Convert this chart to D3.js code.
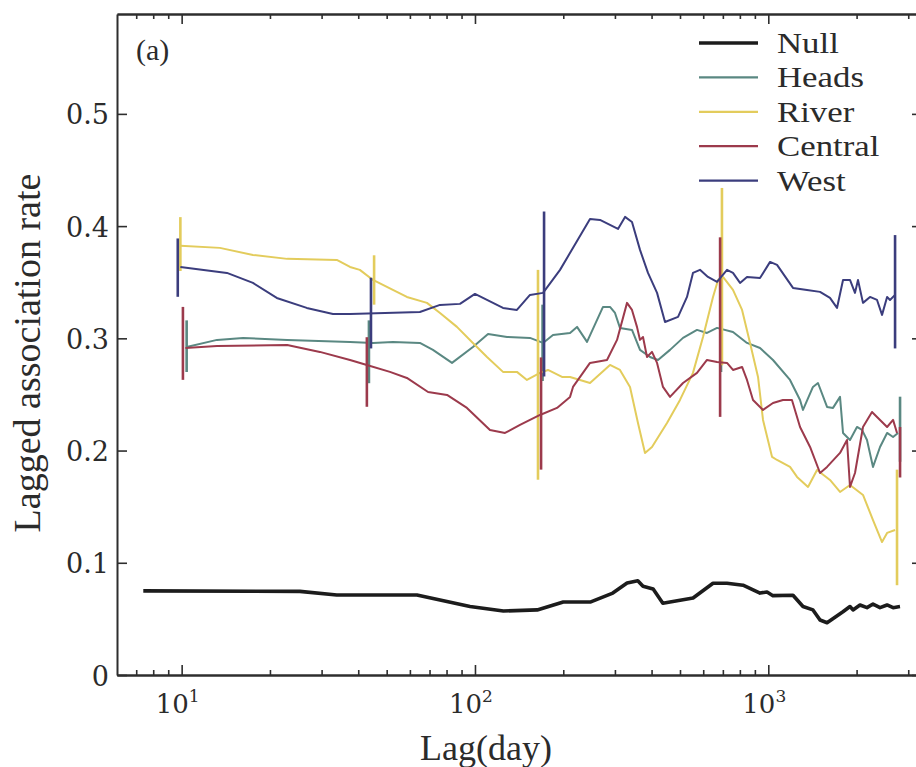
<!DOCTYPE html>
<html>
<head>
<meta charset="utf-8">
<script src="https://cdn.jsdelivr.net/npm/d3@7"></script>
<style>
  body { margin: 0; background: #fff; }
  #chartSVG text { fill: #2b2b2b; }
</style>
</head>
<body>
<div id="chartSVG"></div>
<script>
// series names and colours (legend order)
const seriesNames = ["Null", "Heads", "River", "Central", "West"];
const seriesColors = ["#1c1c1c", "#5a8882", "#e3cc5c", "#9c3a4c", "#3b3d7d"];

// lag (days), lagged association rate
const nullValues = [[7.4,0.075],[25.3,0.0745],[33.8,0.0713],[63.4,0.0713],[96.2,0.061],[125,0.057],[163,0.058],[200,0.065],[247,0.065],[295,0.073],[330,0.082],[359,0.084],[374,0.079],[405,0.0766],[437,0.064],[554,0.0686],[648,0.0817],[723,0.0817],[820,0.080],[937,0.073],[990,0.074],[1037,0.0707],[1214,0.071],[1313,0.061],[1420,0.058],[1501,0.049],[1586,0.0466],[1797,0.0564],[1899,0.061],[1944,0.058],[2054,0.0624],[2170,0.060],[2275,0.0632],[2404,0.060],[2540,0.0624],[2663,0.060],[2812,0.061]];

const headsValues = [[10.4,0.2923],[13.2,0.2986],[16.2,0.3004],[22.9,0.2986],[37.5,0.2968],[44.9,0.2959],[52.5,0.2968],[64.9,0.2959],[71.9,0.2897],[83.5,0.2781],[98.4,0.2923],[110.8,0.3039],[128.6,0.3012],[154,0.3004],[170.6,0.2959],[184.5,0.303],[210.9,0.3048],[222.8,0.3102],[241,0.2968],[273.2,0.328],[288.6,0.328],[300.2,0.3226],[312.1,0.3093],[343,0.3075],[365.3,0.2897],[395.1,0.2834],[420.7,0.2807],[462.3,0.2897],[512,0.3004],[571.4,0.3075],[618,0.3048],[668.7,0.3093],[757.9,0.3057],[846,0.2959],[937,0.2914],[1037.5,0.2807],[1186,0.2629],[1283,0.2451],[1313,0.2362],[1420,0.2567],[1477,0.2602],[1586,0.2389],[1662,0.238],[1756,0.2478],[1798,0.2157],[1899,0.2094],[2006,0.221],[2087,0.2184],[2170,0.2094],[2275,0.1854],[2404,0.2032],[2541,0.2157],[2663,0.2121],[2769,0.2157]];

const riverValues = [[9.9,0.3824],[13.5,0.3806],[17.5,0.3743],[22.9,0.3708],[33.8,0.3699],[37.5,0.3636],[40.5,0.361],[44.9,0.352],[52.5,0.3431],[58.6,0.3369],[68.6,0.3316],[76,0.3226],[86.8,0.3102],[98.4,0.2959],[109.9,0.2834],[124.6,0.2701],[139,0.2701],[150.4,0.2629],[166.6,0.2692],[177.4,0.2718],[198,0.2656],[210.9,0.2656],[246.7,0.2602],[288.6,0.2763],[312.1,0.2718],[337.7,0.2567],[359.5,0.2246],[379.9,0.1979],[401.3,0.2032],[451.5,0.2246],[500,0.2451],[553.6,0.2692],[599,0.3012],[647.9,0.3369],[674,0.352],[700.8,0.3547],[757.9,0.3431],[813.9,0.3253],[866.5,0.2959],[922.5,0.2656],[959.4,0.2273],[1030,0.1943],[1071,0.1916],[1186,0.1854],[1253,0.1765],[1366,0.1676],[1466,0.1827],[1623,0.1738],[1756,0.1631],[1899,0.1693],[2103,0.1604],[2275,0.1381],[2442,0.1185],[2541,0.1266],[2705,0.1292]];

const centralValues = [[10.3,0.2914],[13.2,0.2932],[22.9,0.2941],[29.6,0.2879],[37.5,0.2807],[42.8,0.2763],[51.3,0.2701],[58.6,0.2647],[69.2,0.2522],[80.3,0.2496],[93.9,0.238],[112.5,0.2184],[126.6,0.2157],[142.4,0.2228],[166.6,0.2317],[190.4,0.238],[210.9,0.2478],[215.9,0.2567],[246.7,0.2781],[281.9,0.2807],[305,0.2986],[329.9,0.3316],[343,0.3253],[356.7,0.3102],[365.3,0.2986],[374,0.3012],[385.9,0.2834],[401.3,0.2879],[417.6,0.2781],[437.5,0.2567],[462.3,0.2478],[512,0.2602],[571.4,0.2692],[618,0.2807],[668.7,0.279],[723.2,0.2781],[757.9,0.2718],[813.9,0.2745],[846,0.2629],[887,0.2451],[959.4,0.2362],[1037.5,0.2424],[1122,0.2451],[1204,0.2451],[1283,0.221],[1388,0.2032],[1501,0.18],[1586,0.1854],[1756,0.1979],[1855,0.2094],[1899,0.1676],[1975,0.18],[2103,0.221],[2257,0.2344],[2404,0.2273],[2541,0.221],[2663,0.2273],[2747,0.2157]];

const westValues = [[9.9,0.3636],[14.27,0.3583],[17.5,0.3494],[21.1,0.336],[26.7,0.3271],[32.8,0.3217],[37.5,0.3217],[64.9,0.3235],[76,0.3298],[88.9,0.3307],[100,0.3396],[124.6,0.3271],[139,0.3253],[154,0.3387],[170.6,0.3405],[195,0.361],[246.7,0.4064],[266.8,0.4055],[307.3,0.3975],[324.8,0.4082],[343,0.4037],[365.3,0.3788],[388.9,0.3583],[417.6,0.3405],[444.5,0.3146],[492.4,0.3191],[528.3,0.3369],[553.6,0.3583],[584.9,0.361],[622.8,0.3547],[668.7,0.3503],[723.2,0.361],[757.9,0.3583],[801,0.3494],[846,0.3547],[937,0.3538],[1014,0.3681],[1071,0.3654],[1214,0.3449],[1355,0.3431],[1501,0.3414],[1623,0.336],[1715,0.3271],[1798,0.352],[1899,0.352],[1975,0.3405],[2022,0.352],[2103,0.3316],[2222,0.3369],[2348,0.3342],[2442,0.3209],[2541,0.3369],[2600,0.3342],[2705,0.3387]];

// error bars: lag, low, high
const headsBars = [[10.4,0.27,0.316],[43.5,0.26,0.316],[170,0.262,0.33],[690,0.27,0.345],[2813,0.19,0.248]];
const riverBars = [[9.9,0.36,0.408],[45.3,0.33,0.374],[164,0.174,0.361],[695,0.276,0.434],[2747,0.08,0.183]];
const centralBars = [[10.1,0.263,0.328],[42.8,0.239,0.301],[168,0.183,0.283],[685,0.23,0.39],[2813,0.176,0.221]];
const westBars = [[9.7,0.337,0.389],[44.2,0.291,0.354],[172,0.266,0.413],[2705,0.291,0.392]];

// axis ticks and labels
const xMajorTicks = [10, 100, 1000];
const xTickExponents = ["1", "2", "3"];
const yTicks = [0, 0.1, 0.2, 0.3, 0.4, 0.5];
const xTitle = "Lag(day)";
const yTitle = "Lagged association rate";
const panelLabel = "(a)";

drawChart("#chartSVG");

function drawChart(elm) {
  var width = 916, height = 767;
  var plot = { left: 117, right: 922, top: 14, bottom: 675 };

  var svg = d3.select(elm)
    .append("svg")
    .attr("width", width)
    .attr("height", height);

  // scales
  var x = d3.scaleLog()
    .domain([6.02, 3342])
    .range([plot.left, plot.right]);
  var y = d3.scaleLinear()
    .domain([0, 0.589])
    .range([plot.bottom, plot.top]);

  var minorTicks = x.ticks().filter(t => xMajorTicks.indexOf(t) < 0);
  var axisColor = "#2e2e2e";

  function styleAxis(g) {
    g.select(".domain").attr("stroke", axisColor).attr("stroke-width", 2);
    g.selectAll(".tick line").attr("stroke", axisColor).attr("stroke-width", 1.6);
  }

  // bottom axis: major + minor ticks, pointing inward
  svg.append("g")
    .attr("transform", `translate(0,${plot.bottom})`)
    .call(d3.axisBottom(x).tickValues(xMajorTicks).tickSize(-10).tickSizeOuter(0).tickFormat(""))
    .call(styleAxis);
  svg.append("g")
    .attr("transform", `translate(0,${plot.bottom})`)
    .call(d3.axisBottom(x).tickValues(minorTicks).tickSize(-5).tickSizeOuter(0).tickFormat(""))
    .call(styleAxis);
  // top axis
  svg.append("g")
    .attr("transform", `translate(0,${plot.top})`)
    .call(d3.axisTop(x).tickValues(xMajorTicks).tickSize(-10).tickSizeOuter(0).tickFormat(""))
    .call(styleAxis);
  svg.append("g")
    .attr("transform", `translate(0,${plot.top})`)
    .call(d3.axisTop(x).tickValues(minorTicks).tickSize(-5).tickSizeOuter(0).tickFormat(""))
    .call(styleAxis);

  // left axis with labels
  svg.append("g")
    .attr("transform", `translate(${plot.left},0)`)
    .call(d3.axisLeft(y).tickValues(yTicks).tickSize(-10).tickSizeOuter(0).tickPadding(8)
      .tickFormat(d => d === 0 ? "0" : d3.format(".1f")(d)))
    .call(styleAxis)
    .call(g => g.selectAll(".tick text")
      .attr("font-family", "DejaVu Serif")
      .attr("font-size", 27)
      .attr("dy", "0.37em")
      .attr("fill", "#333"));
  // right axis
  svg.append("g")
    .attr("transform", `translate(${plot.right},0)`)
    .call(d3.axisRight(y).tickValues(yTicks).tickSize(-10).tickSizeOuter(0).tickFormat(""))
    .call(styleAxis);

  // x tick labels as 10 with superscript exponent
  var xLab = svg.append("g").selectAll("text")
    .data(xMajorTicks)
    .join("text")
    .attr("x", d => x(d) - 4)
    .attr("y", 713)
    .attr("text-anchor", "middle")
    .attr("font-family", "DejaVu Serif")
    .attr("font-size", 26)
    .attr("fill", "#333");
  xLab.append("tspan").text("10");
  xLab.append("tspan")
    .attr("font-size", 17)
    .attr("dy", -11)
    .text((d, i) => xTickExponents[i]);

  // axis titles
  svg.append("text")
    .attr("x", 486)
    .attr("y", 760)
    .attr("text-anchor", "middle")
    .attr("font-family", "Liberation Serif")
    .attr("font-size", 36)
    .text(xTitle);
  svg.append("text")
    .attr("transform", "translate(40,353) rotate(-90)")
    .attr("text-anchor", "middle")
    .attr("font-family", "Liberation Serif")
    .attr("font-size", 38)
    .text(yTitle);
  svg.append("text")
    .attr("x", 136)
    .attr("y", 60)
    .attr("font-family", "Liberation Serif")
    .attr("font-size", 30)
    .text(panelLabel);

  // series
  var series = [
    { name: seriesNames[0], color: seriesColors[0], values: nullValues, bars: [], w: 3.6 },
    { name: seriesNames[1], color: seriesColors[1], values: headsValues, bars: headsBars, w: 2 },
    { name: seriesNames[2], color: seriesColors[2], values: riverValues, bars: riverBars, w: 2 },
    { name: seriesNames[3], color: seriesColors[3], values: centralValues, bars: centralBars, w: 2 },
    { name: seriesNames[4], color: seriesColors[4], values: westValues, bars: westBars, w: 2 }
  ];

  var line = d3.line()
    .x(d => x(d[0]))
    .y(d => y(d[1]));

  var plotArea = svg.append("g");
  series.forEach(function (s) {
    var g = plotArea.append("g");
    g.append("path")
      .datum(s.values)
      .attr("fill", "none")
      .attr("stroke", s.color)
      .attr("stroke-width", s.w)
      .attr("stroke-linejoin", "round")
      .attr("d", line);
    // error bars
    g.selectAll("line")
      .data(s.bars)
      .join("line")
      .attr("x1", d => x(d[0]))
      .attr("x2", d => x(d[0]))
      .attr("y1", d => y(d[1]))
      .attr("y2", d => y(d[2]))
      .attr("stroke", s.color)
      .attr("stroke-width", 2.6);
  });

  // legend (text a bit narrow-tall in the font, so stretch it sideways)
  var legend = svg.append("g").selectAll("g")
    .data(series)
    .join("g")
    .attr("transform", (d, i) => `translate(699,${43 + i * 34.4})`);
  legend.append("line")
    .attr("x1", 0)
    .attr("x2", 59)
    .attr("stroke", d => d.color)
    .attr("stroke-width", d => d.w === 2 ? 2.2 : 3.6);
  legend.append("text")
    .attr("transform", "translate(78,10) scale(1.2,1)")
    .attr("font-family", "Liberation Serif")
    .attr("font-size", 29)
    .text(d => d.name);
}
</script>
</body>
</html>
